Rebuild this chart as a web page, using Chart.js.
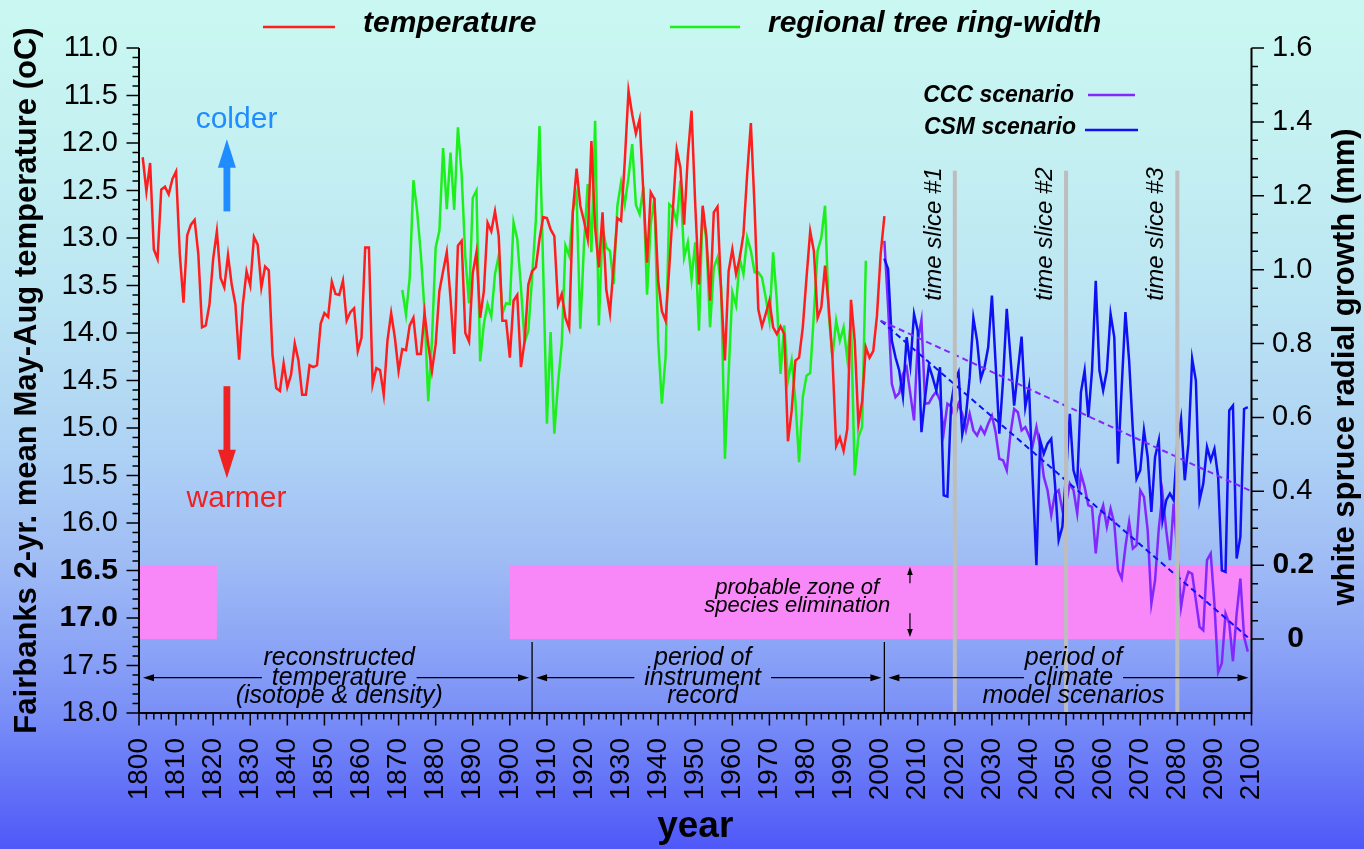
<!DOCTYPE html>
<html lang="en">
<head>
<meta charset="UTF-8">
<title>Fairbanks summer temperature and white spruce growth, 1800-2100</title>
<script src="https://cdn.jsdelivr.net/npm/chart.js"></script>
<style>
  html, body { margin: 0; padding: 0; background: #4f58f8; }
  #wrap { width: 1364px; height: 849px; }
</style>
</head>
<body>
<div id="wrap"><canvas id="chart" width="1364" height="849"></canvas></div>
<script>
const FONT = '"Liberation Sans", Arial, Helvetica, sans-serif';

// axis ticks
const yearTicks = [1800, 1810, 1820, 1830, 1840, 1850, 1860, 1870, 1880, 1890, 1900,
    1910, 1920, 1930, 1940, 1950, 1960, 1970, 1980, 1990, 2000,
    2010, 2020, 2030, 2040, 2050, 2060, 2070, 2080, 2090, 2100];
const tempTicks = [11.0, 11.5, 12.0, 12.5, 13.0, 13.5, 14.0, 14.5, 15.0, 15.5, 16.0, 16.5, 17.0, 17.5, 18.0];
const boldTempTicks = [16.5, 17.0];
const growthTicks = [0, 0.2, 0.4, 0.6, 0.8, 1.0, 1.2, 1.4, 1.6];
const growthTickLabels = ['0', '0.2', '0.4', '0.6', '0.8', '1.0', '1.2', '1.4', '1.6'];

// 2-yr mean May-Aug temperature (oC), 1801-2001
const tempStart = 1801;
const temperature = [
    12.15, 12.51, 12.21, 13.12, 13.22, 12.49, 12.46, 12.54, 12.38, 12.30,
    13.17, 13.68, 12.97, 12.86, 12.81, 13.17, 13.94, 13.92, 13.70, 13.22,
    12.93, 13.42, 13.52, 13.18, 13.49, 13.70, 14.28, 13.70, 13.35, 13.50,
    12.99, 13.07, 13.52, 13.30, 13.34, 14.23, 14.58, 14.61, 14.32, 14.57,
    14.44, 14.11, 14.29, 14.65, 14.65, 14.34, 14.36, 14.34, 13.90, 13.79,
    13.83, 13.46, 13.59, 13.60, 13.45, 13.87, 13.78, 13.74, 14.19, 14.05,
    13.10, 13.10, 14.54, 14.37, 14.39, 14.65, 14.08, 13.79, 14.05, 14.40,
    14.17, 14.18, 13.92, 13.84, 14.22, 14.22, 13.79, 14.12, 14.40, 14.12,
    13.56, 13.35, 13.15, 13.63, 14.22, 13.08, 13.03, 14.00, 14.09, 13.37,
    13.15, 13.84, 13.56, 12.84, 12.93, 12.72, 12.98, 13.87, 13.87, 14.26,
    13.66, 13.60, 14.36, 14.08, 13.49, 13.35, 13.31, 13.01, 12.78, 12.79,
    12.91, 12.98, 13.70, 13.59, 13.84, 13.95, 12.72, 12.27, 12.66, 12.82,
    13.01, 11.98, 12.89, 13.31, 12.73, 13.54, 13.79, 13.29, 12.79, 12.82,
    12.19, 11.45, 11.70, 11.90, 11.75, 12.51, 13.26, 12.52, 12.59, 13.45,
    13.77, 13.87, 13.31, 12.68, 12.07, 12.26, 12.86, 12.14, 11.66, 12.65,
    13.49, 12.66, 12.98, 13.66, 12.73, 12.67, 13.59, 14.29, 13.35, 13.12,
    13.38, 13.21, 12.96, 12.33, 11.79, 12.68, 13.75, 13.93, 13.80, 13.66,
    13.94, 14.01, 13.93, 14.01, 15.14, 14.82, 14.29, 14.26, 13.94, 13.42,
    12.93, 13.14, 13.84, 13.73, 13.29, 13.73, 14.26, 15.19, 15.10, 15.24,
    15.01, 13.65, 14.08, 14.96, 14.72, 14.15, 14.26, 14.19, 13.82, 13.17,
    12.77
];

// regional tree ring-width (mm), 1871-1996
const ringStart = 1871;
const ringWidth = [
    0.945, 0.878, 0.979, 1.242, 1.159, 1.042, 0.889, 0.644, 0.808, 1.060,
    1.105, 1.329, 1.164, 1.317, 1.162, 1.385, 1.259, 1.033, 0.909, 1.194,
    1.214, 0.752, 0.853, 0.907, 0.873, 0.988, 1.038, 0.882, 0.909, 0.907,
    1.128, 1.083, 0.952, 0.804, 0.835, 0.979, 1.132, 1.389, 1.000, 0.583,
    0.831, 0.556, 0.692, 0.800, 1.065, 1.038, 1.159, 1.204, 0.840, 1.069,
    1.232, 1.047, 1.403, 0.849, 1.114, 1.060, 1.051, 0.961, 1.173, 1.236,
    1.177, 1.250, 1.340, 1.175, 1.150, 1.224, 0.932, 1.123, 1.195, 0.808,
    0.637, 0.763, 1.177, 1.168, 1.128, 1.241, 1.033, 1.074, 0.975, 1.074,
    0.835, 1.164, 1.078, 0.844, 1.006, 1.033, 0.952, 0.488, 0.718, 0.939,
    0.903, 1.029, 0.988, 1.087, 1.051, 0.993, 0.993, 0.979, 0.925, 0.862,
    1.047, 0.916, 0.718, 0.849, 0.700, 0.754, 0.646, 0.479, 0.655, 0.713,
    0.720, 0.880, 1.051, 1.087, 1.173, 0.880, 0.763, 0.862, 0.808, 0.844,
    0.759, 0.862, 0.443, 0.547, 0.574, 1.024
];

// model scenarios of radial growth (mm), 2001-2099
const scenarioStart = 2001;
const cccScenario = [
    1.078, 0.900, 0.691, 0.655, 0.666, 0.718, 0.736, 0.664, 0.592, 0.808,
    0.864, 0.637, 0.639, 0.657, 0.670, 0.646, 0.560, 0.637, 0.630, 0.601,
    0.637, 0.610, 0.565, 0.610, 0.565, 0.551, 0.574, 0.556, 0.583, 0.605,
    0.560, 0.488, 0.484, 0.457, 0.556, 0.623, 0.614, 0.565, 0.574, 0.551,
    0.524, 0.574, 0.520, 0.439, 0.403, 0.335, 0.394, 0.403, 0.349, 0.367,
    0.421, 0.403, 0.340, 0.448, 0.412, 0.362, 0.358, 0.232, 0.331, 0.362,
    0.304, 0.353, 0.313, 0.187, 0.164, 0.250, 0.317, 0.245, 0.254, 0.403,
    0.385, 0.295, 0.096, 0.160, 0.299, 0.394, 0.295, 0.214, 0.367, 0.232,
    0.087, 0.150, 0.182, 0.177, 0.105, 0.033, 0.024, 0.214, 0.232, 0.096,
    -0.090, -0.065, 0.069, 0.042, -0.060, 0.069, 0.164, 0.006, -0.034
];
const csmScenario = [
    1.030, 1.002, 0.808, 0.763, 0.727, 0.657, 0.817, 0.741, 0.880, 0.835,
    0.560, 0.655, 0.741, 0.709, 0.673, 0.736, 0.389, 0.386, 0.637, 0.700,
    0.723, 0.554, 0.605, 0.709, 0.869, 0.808, 0.705, 0.736, 0.790, 0.930,
    0.745, 0.556, 0.700, 0.894, 0.763, 0.632, 0.727, 0.819, 0.628, 0.682,
    0.430, 0.200, 0.538, 0.502, 0.529, 0.542, 0.421, 0.268, 0.304, 0.450,
    0.610, 0.457, 0.421, 0.668, 0.727, 0.601, 0.727, 0.970, 0.727, 0.673,
    0.727, 0.880, 0.817, 0.475, 0.682, 0.885, 0.754, 0.565, 0.434, 0.457,
    0.565, 0.493, 0.344, 0.493, 0.538, 0.322, 0.376, 0.394, 0.376, 0.529,
    0.596, 0.430, 0.529, 0.759, 0.700, 0.376, 0.421, 0.520, 0.484, 0.515,
    0.439, 0.186, 0.182, 0.619, 0.632, 0.218, 0.277, 0.623, 0.628
];

// straight trends through the scenarios
const cccTrendYears = [2000, 2100];
const cccTrend = [0.862, 0.400];
const csmTrendYears = [2000, 2099];
const csmTrend = [0.862, 0.005];

// annotation anchors
const sliceYears = [2020, 2050, 2080];
const sliceLabels = ['time slice #1', 'time slice #2', 'time slice #3'];
const zoneYears = [[1800, 1821], [1900, 2100]];
const zoneGrowth = [0, 0.2];
const periodYears = [[1800, 1906, 1854], [1906, 2001, 1952], [2001, 2100, 2052]];
const periodLabels = [
    ['reconstructed', 'temperature', '(isotope & density)'],
    ['period of', 'instrument', 'record'],
    ['period of', 'climate', 'model scenarios']
];

const COL = {
    temp: '#ff1e1e', ring: '#1cf01c', ccc: '#8228ff', csm: '#1010f5',
    zone: '#f888f8', slice: '#bdbdbd', colder: '#1f8cff', warmer: '#ee2222'
};

function series(start, values) {
    return values.map((v, i) => ({ x: start + i, y: v }));
}
function pairs(xs, ys) {
    return xs.map((x, i) => ({ x: x, y: ys[i] }));
}

function text(ctx, s, x, y, font, color, align, baseline) {
    ctx.font = font;
    ctx.fillStyle = color;
    ctx.textAlign = align || 'left';
    ctx.textBaseline = baseline || 'alphabetic';
    ctx.fillText(s, x, y);
}

// filled arrow head, tip at (tx,ty), pointing along (dx,dy)
function head(ctx, tx, ty, dx, dy, len, hw) {
    const bx = tx - dx * len, by = ty - dy * len;
    ctx.beginPath();
    ctx.moveTo(tx, ty);
    ctx.lineTo(bx - dy * hw, by + dx * hw);
    ctx.lineTo(bx + dy * hw, by - dx * hw);
    ctx.closePath();
    ctx.fill();
}

const decor = {
    id: 'decor',
    beforeDraw(chart) {
        const { ctx, width, height } = chart;
        const g = ctx.createLinearGradient(0, 0, 0, height);
        g.addColorStop(0.00, '#caf8f1');
        g.addColorStop(0.18, '#c4f0f2');
        g.addColorStop(0.35, '#bce5f3');
        g.addColorStop(0.53, '#aed2f4');
        g.addColorStop(0.66, '#9fbcf5');
        g.addColorStop(0.77, '#8aa2f6');
        g.addColorStop(0.85, '#778cf7');
        g.addColorStop(1.00, '#4f58f8');
        ctx.save();
        ctx.fillStyle = g;
        ctx.fillRect(0, 0, width, height);
        ctx.restore();
    },
    beforeDatasetsDraw(chart) {
        const { ctx, scales: { x, y2 } } = chart;
        ctx.save();
        ctx.fillStyle = COL.zone;
        const yt = y2.getPixelForValue(zoneGrowth[1]);
        const yb = y2.getPixelForValue(zoneGrowth[0]);
        zoneYears.forEach(([a, b]) => {
            const x0 = x.getPixelForValue(a), x1 = x.getPixelForValue(b);
            ctx.fillRect(x0, yt, x1 - x0, yb - yt);
        });
        ctx.restore();
    },
    afterDatasetsDraw(chart) {
        const { ctx, chartArea: area, scales: { x, y, y2 } } = chart;
        ctx.save();

        // time slices
        sliceYears.forEach((yr, i) => {
            const px = x.getPixelForValue(yr);
            ctx.strokeStyle = COL.slice;
            ctx.lineWidth = 4;
            ctx.beginPath();
            ctx.moveTo(px, y2.getPixelForValue(1.268));
            ctx.lineTo(px, area.bottom);
            ctx.stroke();
            ctx.save();
            ctx.translate(px - 14, y2.getPixelForValue(0.916));
            ctx.rotate(-Math.PI / 2);
            text(ctx, sliceLabels[i], 0, 0, 'italic 24px ' + FONT, '#000', 'left', 'alphabetic');
            ctx.restore();
        });

        // axis lines and ticks
        ctx.strokeStyle = '#000';
        ctx.lineWidth = 2;
        ctx.beginPath();
        ctx.moveTo(area.left, area.top); ctx.lineTo(area.left, area.bottom);
        ctx.lineTo(area.right, area.bottom); ctx.lineTo(area.right, area.top);
        ctx.stroke();
        ctx.lineWidth = 1.5;
        ctx.beginPath();
        for (let i = 0; i <= 70; i++) {
            const py = y.getPixelForValue(11 + i / 10);
            const len = i % 5 === 0 ? 12.5 : 6.5;
            ctx.moveTo(area.left, py); ctx.lineTo(area.left - len, py);
        }
        for (let i = 0; i <= 32; i++) {
            const py = y2.getPixelForValue(i * 0.05);
            const len = i % 4 === 0 ? 12.5 : 6.5;
            ctx.moveTo(area.right, py); ctx.lineTo(area.right + len, py);
        }
        for (let yr = 1800; yr <= 2100; yr += 2) {
            const px = x.getPixelForValue(yr);
            const len = yr % 10 === 0 ? 12.5 : 6.5;
            ctx.moveTo(px, area.bottom); ctx.lineTo(px, area.bottom + len);
        }
        ctx.stroke();

        // right tick labels
        growthTicks.forEach((v, i) => {
            const py = y2.getPixelForValue(v);
            if (v < 0.3) {
                const px = v === 0 ? area.right + 44 : area.right + 21;
                text(ctx, growthTickLabels[i], px, py, 'bold 30px ' + FONT, '#000', v === 0 ? 'center' : 'left', 'middle');
            } else {
                text(ctx, growthTickLabels[i], area.right + 20.5, py, '29px ' + FONT, '#000', 'left', 'middle');
            }
        });

        // right axis title
        ctx.save();
        ctx.translate(1345, 367);
        ctx.rotate(-Math.PI / 2);
        text(ctx, 'white spruce radial growth (mm)', 0, 0, 'bold 31px ' + FONT, '#000', 'center', 'middle');
        ctx.restore();

        // top legend
        ctx.lineWidth = 2.5;
        ctx.strokeStyle = COL.temp;
        ctx.beginPath(); ctx.moveTo(263, 27); ctx.lineTo(335, 27); ctx.stroke();
        text(ctx, 'temperature', 363, 32, 'italic bold 30px ' + FONT, '#000');
        ctx.strokeStyle = COL.ring;
        ctx.beginPath(); ctx.moveTo(670, 27); ctx.lineTo(740, 27); ctx.stroke();
        text(ctx, 'regional tree ring-width', 768, 32, 'italic bold 30px ' + FONT, '#000');

        // scenario legend
        text(ctx, 'CCC scenario', 1074, 101.5, 'italic bold 23px ' + FONT, '#000', 'right');
        ctx.strokeStyle = COL.ccc;
        ctx.beginPath(); ctx.moveTo(1088, 95); ctx.lineTo(1135, 95); ctx.stroke();
        text(ctx, 'CSM scenario', 1076, 134, 'italic bold 23px ' + FONT, '#000', 'right');
        ctx.strokeStyle = COL.csm;
        ctx.beginPath(); ctx.moveTo(1085, 130); ctx.lineTo(1138, 130); ctx.stroke();

        // colder / warmer
        const ax = x.getPixelForValue(1823.7);
        const tx = x.getPixelForValue(1826.3);
        text(ctx, 'colder', tx, y.getPixelForValue(11.84), '30px ' + FONT, COL.colder, 'center');
        ctx.fillStyle = COL.colder;
        const cTip = y.getPixelForValue(11.96), cBase = y.getPixelForValue(12.26), cEnd = y.getPixelForValue(12.72);
        ctx.fillRect(ax - 3.4, cBase - 2, 6.8, cEnd - cBase + 2);
        head(ctx, ax, cTip, 0, -1, cBase - cTip, 9);
        text(ctx, 'warmer', tx, y.getPixelForValue(15.83), '30px ' + FONT, COL.warmer, 'center');
        ctx.fillStyle = COL.warmer;
        const wTop = y.getPixelForValue(14.56), wBase = y.getPixelForValue(15.23), wTip = y.getPixelForValue(15.53);
        ctx.fillRect(ax - 3.4, wTop, 6.8, wBase - wTop + 2);
        head(ctx, ax, wTip, 0, 1, wTip - wBase, 9);

        // species elimination zone
        const zx = x.getPixelForValue(1977.5);
        text(ctx, 'probable zone of', zx, y2.getPixelForValue(0.122), 'italic 22px ' + FONT, '#000', 'center');
        text(ctx, 'species elimination', zx, y2.getPixelForValue(0.073), 'italic 22px ' + FONT, '#000', 'center');
        const sx = x.getPixelForValue(2007.9);
        ctx.strokeStyle = '#000';
        ctx.fillStyle = '#000';
        ctx.lineWidth = 1.2;
        ctx.beginPath();
        ctx.moveTo(sx, y2.getPixelForValue(0.151)); ctx.lineTo(sx, y2.getPixelForValue(0.18));
        ctx.moveTo(sx, y2.getPixelForValue(0.070)); ctx.lineTo(sx, y2.getPixelForValue(0.02));
        ctx.stroke();
        head(ctx, sx, y2.getPixelForValue(0.195), 0, -1, 8, 2.8);
        head(ctx, sx, y2.getPixelForValue(0.006), 0, 1, 8, 2.8);

        // periods along the bottom
        const yA = area.bottom - 35.3;
        ctx.lineWidth = 1.3;
        periodYears.forEach(([a, b, c], i) => {
            const x0 = x.getPixelForValue(a) + 4, x1 = x.getPixelForValue(b) - 3;
            const cx = x.getPixelForValue(c);
            const lines = periodLabels[i];
            ctx.font = 'italic 25px ' + FONT;
            const half = ctx.measureText(lines[1]).width / 2 + 10;
            ctx.strokeStyle = '#000';
            ctx.fillStyle = '#000';
            ctx.beginPath();
            ctx.moveTo(x0 + 6, yA); ctx.lineTo(cx - half, yA);
            ctx.moveTo(cx + half, yA); ctx.lineTo(x1 - 6, yA);
            ctx.stroke();
            head(ctx, x0, yA, -1, 0, 11, 3.5);
            head(ctx, x1, yA, 1, 0, 11, 3.5);
            text(ctx, lines[0], cx, area.bottom - 48, 'italic 25px ' + FONT, '#000', 'center');
            text(ctx, lines[1], cx, area.bottom - 28.5, 'italic 25px ' + FONT, '#000', 'center');
            text(ctx, lines[2], cx, area.bottom - 10, 'italic 25px ' + FONT, '#000', 'center');
            if (i > 0) {
                const bx = x.getPixelForValue(a);
                ctx.lineWidth = 1.3;
                ctx.beginPath();
                ctx.moveTo(bx, area.bottom - 71); ctx.lineTo(bx, area.bottom);
                ctx.stroke();
            }
        });
        ctx.restore();
    }
};

const lineDefaults = { pointRadius: 0, borderWidth: 2.5, tension: 0, fill: false };

new Chart(document.getElementById('chart'), {
    type: 'line',
    data: {
        datasets: [
            Object.assign({ label: 'CCC trend', data: pairs(cccTrendYears, cccTrend), yAxisID: 'y2',
                borderColor: COL.ccc, borderDash: [6, 4], order: 0 }, lineDefaults, { borderWidth: 2 }),
            Object.assign({ label: 'CSM trend', data: pairs(csmTrendYears, csmTrend), yAxisID: 'y2',
                borderColor: COL.csm, borderDash: [6, 4], order: 1 }, lineDefaults, { borderWidth: 2 }),
            Object.assign({ label: 'temperature', data: series(tempStart, temperature), yAxisID: 'y',
                borderColor: COL.temp, order: 2 }, lineDefaults),
            Object.assign({ label: 'regional tree ring-width', data: series(ringStart, ringWidth), yAxisID: 'y2',
                borderColor: COL.ring, order: 3 }, lineDefaults),
            Object.assign({ label: 'CSM scenario', data: series(scenarioStart, csmScenario), yAxisID: 'y2',
                borderColor: COL.csm, order: 4 }, lineDefaults),
            Object.assign({ label: 'CCC scenario', data: series(scenarioStart, cccScenario), yAxisID: 'y2',
                borderColor: COL.ccc, order: 5 }, lineDefaults)
        ]
    },
    options: {
        responsive: false,
        animation: false,
        events: [],
        layout: { padding: { top: 48, left: 0, right: 0, bottom: 0 } },
        plugins: { legend: { display: false }, tooltip: { enabled: false } },
        scales: {
            x: {
                type: 'linear', min: 1800, max: 2100,
                afterBuildTicks: s => { s.ticks = yearTicks.map(v => ({ value: v })); },
                afterFit: s => { s.height = 136; },
                grid: { display: false, drawTicks: false },
                border: { display: false },
                ticks: {
                    autoSkip: false, minRotation: 90, maxRotation: 90, padding: 25,
                    color: '#000', font: { family: FONT, size: 28 },
                    callback: v => String(v)
                },
                title: { display: true, text: 'year', color: '#000', padding: { top: 0, bottom: 0 },
                    font: { family: FONT, size: 37, weight: 'bold' } }
            },
            y: {
                type: 'linear', position: 'left', reverse: true, min: 11, max: 18,
                afterBuildTicks: s => { s.ticks = tempTicks.map(v => ({ value: v })); },
                afterFit: s => { s.width = 139; },
                grid: { display: false, drawTicks: false },
                border: { display: false },
                ticks: {
                    padding: 21, color: '#000',
                    font: c => boldTempTicks.includes(c.tick && c.tick.value)
                        ? { family: FONT, size: 30, weight: 'bold' }
                        : { family: FONT, size: 29 },
                    callback: v => v.toFixed(1)
                },
                title: { display: true, text: 'Fairbanks 2-yr. mean May-Aug temperature (oC)', color: '#000',
                    padding: { top: 9, bottom: 0 }, font: { family: FONT, size: 31, weight: 'bold' } }
            },
            y2: {
                type: 'linear', position: 'right', min: -0.2, max: 1.6,
                afterBuildTicks: s => { s.ticks = growthTicks.map(v => ({ value: v })); },
                afterFit: s => { s.width = 112.5; },
                grid: { display: false, drawTicks: false },
                border: { display: false },
                ticks: { display: false }
            }
        }
    },
    plugins: [decor]
});
</script>
</body>
</html>
